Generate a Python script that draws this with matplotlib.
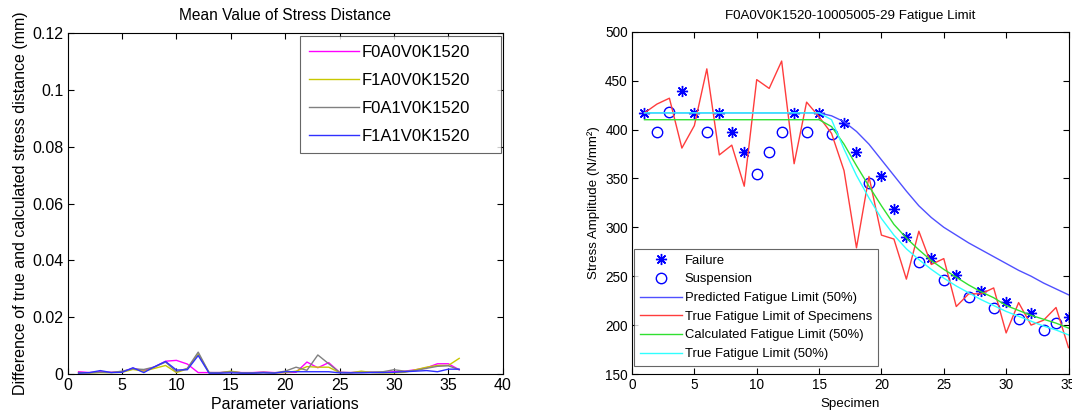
import matplotlib
matplotlib.use("Agg")
import matplotlib.pyplot as plt
import numpy as np

plt.rcParams['font.family'] = ['Liberation Sans', 'DejaVu Sans']

# ---------------- Left chart data ----------------
param_x = list(range(1, 37))
f0a0 = [0.0008, 0.0005, 0.0008, 0.0006, 0.0008, 0.0020, 0.0012, 0.0025, 0.0045, 0.0048,
        0.0035, 0.0005, 0.0005, 0.0005, 0.0008, 0.0005, 0.0005, 0.0007, 0.0005, 0.0005,
        0.0006, 0.0042, 0.0022, 0.0040, 0.0006, 0.0005, 0.0007, 0.0006, 0.0006, 0.0008,
        0.0010, 0.0015, 0.0022, 0.0036, 0.0036, 0.0015]
f1a0 = [0.0005, 0.0004, 0.0005, 0.0005, 0.0006, 0.0016, 0.0010, 0.0020, 0.0030, 0.0005,
        0.0018, 0.0070, 0.0005, 0.0004, 0.0010, 0.0004, 0.0004, 0.0005, 0.0004, 0.0005,
        0.0010, 0.0026, 0.0024, 0.0024, 0.0005, 0.0004, 0.0010, 0.0005, 0.0004, 0.0004,
        0.0006, 0.0015, 0.0024, 0.0030, 0.0030, 0.0055]
f0a1 = [0.0004, 0.0004, 0.0006, 0.0005, 0.0010, 0.0018, 0.0016, 0.0025, 0.0042, 0.0008,
        0.0020, 0.0077, 0.0005, 0.0005, 0.0008, 0.0004, 0.0004, 0.0006, 0.0004, 0.0010,
        0.0024, 0.0013, 0.0067, 0.0036, 0.0006, 0.0005, 0.0006, 0.0007, 0.0008, 0.0015,
        0.0010, 0.0012, 0.0020, 0.0027, 0.0029, 0.0015]
f1a1 = [0.0003, 0.0005, 0.0012, 0.0005, 0.0006, 0.0022, 0.0005, 0.0026, 0.0044, 0.0014,
        0.0015, 0.0065, 0.0003, 0.0003, 0.0004, 0.0003, 0.0003, 0.0004, 0.0003, 0.0008,
        0.0008, 0.0008, 0.0008, 0.0008, 0.0004, 0.0004, 0.0004, 0.0005, 0.0005, 0.0006,
        0.0008, 0.0010, 0.0012, 0.0008, 0.0017, 0.0017]
left_labels = ['F0A0V0K1520', 'F1A0V0K1520', 'F0A1V0K1520', 'F1A1V0K1520']
left_colors = ['#ff00ff', '#c8c800', '#808080', '#3030ff']

# ---------------- Right chart data ----------------
fail_x = [1, 4, 5, 7, 8, 9, 13, 15, 17, 18, 20, 21, 22, 24, 26, 28, 30, 32, 35]
fail_y = [417, 439, 417, 417, 397, 377, 417, 417, 407, 377, 352, 319, 290, 269, 251, 235, 224, 212, 208]
susp_x = [2, 3, 6, 10, 11, 12, 14, 16, 19, 23, 25, 27, 29, 31, 33, 34]
susp_y = [397, 418, 397, 355, 377, 397, 397, 395, 345, 265, 246, 229, 217, 206, 195, 202]
spec = list(range(1, 36))
predicted = [417]*15 + [414, 408, 398, 385, 369, 353, 337, 322, 310, 300, 292, 284, 277, 270, 263,
                        256, 250, 243, 237, 231]
true_spec = [417, 426, 432, 381, 404, 462, 374, 384, 342, 451, 442, 470, 365, 428, 413, 396, 358, 279,
             352, 292, 288, 247, 296, 262, 268, 219, 232, 232, 238, 192, 223, 200, 205, 218, 177]
calculated = [410]*15 + [403, 385, 363, 342, 322, 303, 289, 277, 266, 257, 249, 241, 234, 228, 220,
                         215, 210, 206, 202, 197]
true_50 = [417]*15 + [410, 380, 353, 330, 309, 292, 278, 267, 257, 248, 240, 233, 226, 220, 214,
                      209, 204, 199, 195, 190]

fig = plt.figure(figsize=(10.72, 4.16), dpi=100)

def style_axes(ax, fs):
    ax.tick_params(direction='in', top=True, right=True, labelsize=fs, length=4, width=0.8, pad=3)
    for s in ax.spines.values():
        s.set_linewidth(0.8)

# Left axes
L_x0, L_x1, L_y0, L_y1 = 67.7, 502.7, 374, 33
ax1 = fig.add_axes([L_x0/1072, 1-L_y0/416, (L_x1-L_x0)/1072, (L_y0-L_y1)/416])
for ys, lab, c in zip([f0a0, f1a0, f0a1, f1a1], left_labels, left_colors):
    ax1.plot(param_x, ys, color=c, lw=1.0, label=lab)
ax1.set_xlim(0, 40)
ax1.set_ylim(0, 0.12)
ax1.set_xticks(range(0, 41, 5))
ax1.set_yticks([0, 0.02, 0.04, 0.06, 0.08, 0.1, 0.12])
ax1.set_yticklabels(['0', '0.02', '0.04', '0.06', '0.08', '0.1', '0.12'])
style_axes(ax1, 11.5)
ax1.set_title('Mean Value of Stress Distance', fontsize=11.2, pad=9)
ax1.set_xlabel('Parameter variations', fontsize=11.5, labelpad=3)
ax1.set_ylabel('Difference of true and calculated stress distance (mm)', fontsize=11.5, labelpad=3)
lw_ax = L_x1 - L_x0
lh_ax = L_y0 - L_y1
bx0 = (300 - L_x0) / lw_ax
bw = (500.7 - 300) / lw_ax
btop = (L_y0 - 36) / lh_ax
leg1 = ax1.legend(loc='upper left', bbox_to_anchor=(bx0, btop - 0.5, bw, 0.5), mode='expand',
                  fontsize=12, frameon=True, fancybox=False, edgecolor='#404040',
                  handlelength=3.0, handletextpad=0.15, borderaxespad=0.0, labelspacing=0.78,
                  borderpad=0.55)
leg1.get_frame().set_linewidth(0.8)

# Right axes
R_x0, R_x1, R_y0, R_y1 = 632, 1068.5, 374, 31.7
ax2 = fig.add_axes([R_x0/1072, 1-R_y0/416, (R_x1-R_x0)/1072, (R_y0-R_y1)/416])
ax2.plot(fail_x, fail_y, linestyle='none', marker=(8, 2, 0), ms=8, mew=1.0, color='#0000ff', label='Failure')
ax2.plot(susp_x, susp_y, linestyle='none', marker='o', ms=7.5, mew=1.0, mfc='none', mec='#0000ff', label='Suspension')
ax2.plot(spec, predicted, color='#5050ff', lw=1.0, label='Predicted Fatigue Limit (50%)')
ax2.plot(spec, true_spec, color='#ff3c3c', lw=1.0, label='True Fatigue Limit of Specimens')
ax2.plot(spec, calculated, color='#30e030', lw=1.0, label='Calculated Fatigue Limit (50%)')
ax2.plot(spec, true_50, color='#30ffff', lw=1.0, label='True Fatigue Limit (50%)')
ax2.set_xlim(0, 35)
ax2.set_ylim(150, 500)
ax2.set_xticks(range(0, 36, 5))
ax2.set_yticks(range(150, 501, 50))
style_axes(ax2, 9.8)
ax2.set_title('F0A0V0K1520-10005005-29 Fatigue Limit', fontsize=9.6, pad=9)
ax2.set_xlabel('Specimen', fontsize=9.6, labelpad=4)
ax2.set_ylabel('Stress Amplitude (N/mm²)', fontsize=9.6, labelpad=4)
rw_ax = R_x1 - R_x0
rh_ax = R_y0 - R_y1
leg2 = ax2.legend(loc='lower left', bbox_to_anchor=(2/rw_ax, 8/rh_ax),
                  fontsize=9.4, frameon=True, fancybox=False, edgecolor='#404040',
                  handlelength=3.2, borderaxespad=0.0, labelspacing=0.5, borderpad=0.45,
                  handletextpad=0.25)
leg2.get_frame().set_linewidth(0.8)

fig.savefig('out.png', dpi=100)
